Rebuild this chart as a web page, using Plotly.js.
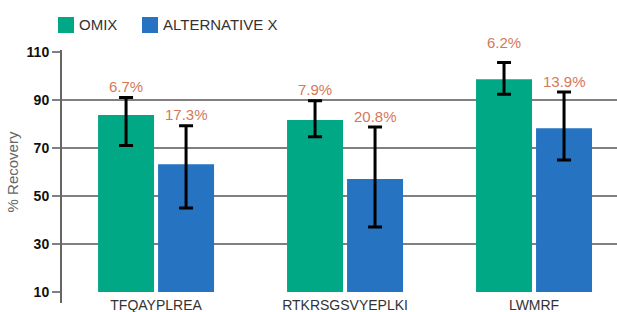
<!DOCTYPE html>
<html>
<head>
<meta charset="utf-8">
<script src="https://cdn.plot.ly/plotly-3.0.1.min.js"></script>
<style>html,body{margin:0;padding:0;background:#fff}#chart{width:617px;height:312px}</style>
</head>
<body>
<div id="chart"></div>
<script>
// ---- data ----
const categories = ['TFQAYPLREA', 'RTKRSGSVYEPLKI', 'LWMRF'];
const seriesNames = ['OMIX', 'ALTERNATIVE X'];
const omixValues = [83.8, 81.7, 98.6];
const omixErrPlus = [7.2, 8.0, 7.0];
const omixErrMinus = [12.8, 7.0, 6.2];
const altValues = [63.2, 57.1, 78.2];
const altErrPlus = [16.1, 21.6, 15.1];
const altErrMinus = [18.2, 20.0, 13.2];
const omixCV = ['6.7%', '7.9%', '6.2%'];
const altCV = ['17.3%', '20.8%', '13.9%'];
const yTicks = [10, 30, 50, 70, 90, 110];

// ---- styles ----
const GREEN = '#00a886';
const BLUE = '#2673c1';
const LABEL = '#d5785a';
const FONT = 'Liberation Sans, Arial, sans-serif';

const W = 617, H = 312;
const M = {l: 61, r: 0, t: 52, b: 20};
const plotW = W - M.l - M.r, plotH = H - M.t - M.b;
const px = x => (x - M.l) / plotW;
const py = y => (H - M.b - y) / plotH;
const Y0 = yTicks[0], Y1 = yTicks[yTicks.length - 1];
const valToPaper = v => (v - Y0) / (Y1 - Y0);

const errStyle = {type: 'data', symmetric: false, color: '#000', thickness: 3, width: 7};

const traces = [
  {type: 'bar', name: seriesNames[0], x: categories, y: omixValues, marker: {color: GREEN},
   error_y: Object.assign({array: omixErrPlus, arrayminus: omixErrMinus}, errStyle), showlegend: false},
  {type: 'bar', name: seriesNames[1], x: categories, y: altValues, marker: {color: BLUE},
   error_y: Object.assign({array: altErrPlus, arrayminus: altErrMinus}, errStyle), showlegend: false}
];

// percent labels above error bars; lifted above a gridline if they would cross it
const annotations = [];
function labelY(top) {
  let base = top + 2.3;
  const capTop = base + 4.6;
  for (const g of yTicks) {
    if (g > base && g < capTop) base = g + 1.7;
  }
  return base;
}
[[omixValues, omixErrPlus, omixCV, -30], [altValues, altErrPlus, altCV, 30]].forEach(([vals, plus, txt, shift]) => {
  vals.forEach((v, i) => {
    annotations.push({
      x: categories[i], y: valToPaper(labelY(v + plus[i])), xref: 'x', yref: 'paper',
      text: txt[i], showarrow: false, xshift: shift, yanchor: 'bottom', yshift: -5,
      font: {family: FONT, size: 15, color: LABEL}
    });
  });
});

// legend (manual, square keys close to text)
const legendItems = [[seriesNames[0], GREEN, 58], [seriesNames[1], BLUE, 142]];
const shapes = [];
legendItems.forEach(([name, color, x]) => {
  shapes.push({type: 'rect', xref: 'paper', yref: 'paper', x0: px(x), x1: px(x + 16), y0: py(33), y1: py(17),
    fillcolor: color, line: {width: 0}});
  annotations.push({xref: 'paper', yref: 'paper', x: px(x + 19), y: py(25), xanchor: 'left', yanchor: 'middle',
    text: name, showarrow: false, font: {family: FONT, size: 15, color: '#333'}});
});
// vertical axis line extending a little below the baseline
shapes.push({type: 'line', xref: 'paper', yref: 'paper', x0: 0, x1: 0, y0: py(303), y1: py(50),
  line: {color: '#666', width: 2}});

const layout = {
  width: W, height: H,
  margin: M,
  paper_bgcolor: '#fff', plot_bgcolor: '#fff',
  barmode: 'group', bargap: 0.365, bargroupgap: 0.067,
  showlegend: false,
  font: {family: FONT, color: '#333'},
  xaxis: {type: 'category', range: [-0.503, 2.439], showgrid: false, zeroline: false, showline: false,
    ticks: '', ticklabelstandoff: 3, tickfont: {family: FONT, size: 14, color: '#333'}},
  yaxis: {range: [Y0, Y1], tickvals: yTicks, ticktext: yTicks.map(String), showgrid: true, gridcolor: '#808080', gridwidth: 2,
    zeroline: false, showline: false, ticks: 'outside', ticklen: 8, tickwidth: 2, tickcolor: '#808080',
    tickfont: {family: FONT, size: 14, color: '#111', weight: 'bold'},
    title: {text: '% Recovery', font: {family: FONT, size: 15, color: '#666'}, standoff: 4}},
  annotations: annotations,
  shapes: shapes
};

Plotly.newPlot('chart', traces, layout, {displayModeBar: false, staticPlot: true});
</script>
</body>
</html>
